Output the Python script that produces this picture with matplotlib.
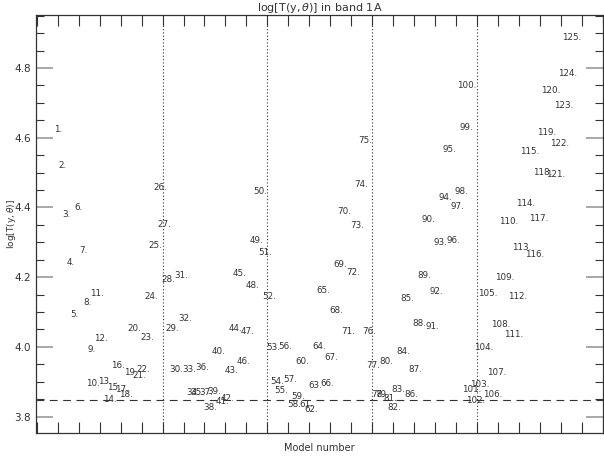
import numpy as np
import matplotlib
matplotlib.use('Agg')
import matplotlib.pyplot as plt
from matplotlib.ticker import MultipleLocator, NullFormatter

# model numbers and log T values
models = list(range(1, 126))
logT = [
    4.616, 4.513, 4.372, 4.236, 4.087, 4.393, 4.270, 4.119, 3.986, 3.887,
    4.147, 4.016, 3.894, 3.841, 3.877, 3.940, 3.872, 3.857, 3.918, 4.047,
    3.910, 3.927, 4.020, 4.138, 4.284, 4.451, 4.344, 4.186, 4.047, 3.929,
    4.198, 4.074, 3.929, 3.862, 3.862, 3.935, 3.862, 3.818, 3.866, 3.979,
    3.837, 3.845, 3.925, 4.047, 4.202, 3.950, 4.038, 4.169, 4.299, 4.439,
    4.263, 4.138, 3.991, 3.894, 3.868, 3.995, 3.898, 3.829, 3.851, 3.951,
    3.829, 3.813, 3.882, 3.995, 4.155, 3.888, 3.961, 4.096, 4.229, 4.382,
    4.036, 4.205, 4.341, 4.460, 4.584, 4.036, 3.940, 3.857, 3.857, 3.952,
    3.846, 3.818, 3.872, 3.981, 4.133, 3.857, 3.929, 4.059, 4.198, 4.357,
    4.051, 4.152, 4.291, 4.422, 4.560, 4.299, 4.395, 4.439, 4.621, 4.742,
    3.872, 3.838, 3.885, 3.992, 4.147, 3.857, 3.920, 4.056, 4.193, 4.353,
    4.029, 4.138, 4.277, 4.405, 4.552, 4.259, 4.360, 4.492, 4.607, 4.727,
    4.486, 4.576, 4.686, 4.778, 4.880,
]
ref_level = 3.847
group_edges = [25, 50, 75, 100]

W, H = 604, 461
fig = plt.figure(figsize=(W / 100, H / 100), dpi=100)
ax = fig.add_axes([36 / W, (H - 433) / H, (603 - 36) / W, (433 - 15) / H])

col = '#333333'
for n, v in zip(models, logT):
    ax.text(n, v, f'{n}.', ha='right', va='baseline', fontsize=6.3, color=col)

ax.axhline(ref_level, color=col, lw=0.8, ls=(0, (7, 5)))
for g in group_edges:
    ax.axvline(g, color=col, lw=0.8, ls=(0, (1, 2)))

ax.set_xlim(-5.2, 130.1)
ax.set_ylim(3.753, 4.952)

ax.xaxis.set_major_locator(MultipleLocator(5))
ax.xaxis.set_major_formatter(NullFormatter())
ax.yaxis.set_major_locator(MultipleLocator(0.2))
ax.yaxis.set_minor_locator(MultipleLocator(0.05))
ax.yaxis.set_major_formatter(matplotlib.ticker.FormatStrFormatter('%.1f'))

ax.tick_params(axis='x', which='major', direction='in', top=True, bottom=True,
               length=8, width=0.8, color=col)
ax.tick_params(axis='y', which='major', direction='in', left=True, right=True,
               length=12, width=1.2, color='#999999', labelsize=7.5, labelcolor=col)
ax.tick_params(axis='y', which='minor', direction='in', left=True, right=True,
               length=6, width=0.8, color=col)

for s in ax.spines.values():
    s.set_color(col)
    s.set_linewidth(0.9)

ax.set_title(r'log$\left[\mathrm{T(y,}\theta\mathrm{)}\right]$ in band 1A',
             fontsize=8, color=col, pad=3)
fig.text(11 / W, 1 - 224 / H, r'log$\left[\mathrm{T(y,}\theta\mathrm{)}\right]$',
         fontsize=6.5, color=col, rotation=90, ha='center', va='center')
fig.text(319 / W, 1 - 448 / H, 'Model number', fontsize=7, color=col,
         ha='center', va='center')

fig.savefig('out.png', dpi=100)
